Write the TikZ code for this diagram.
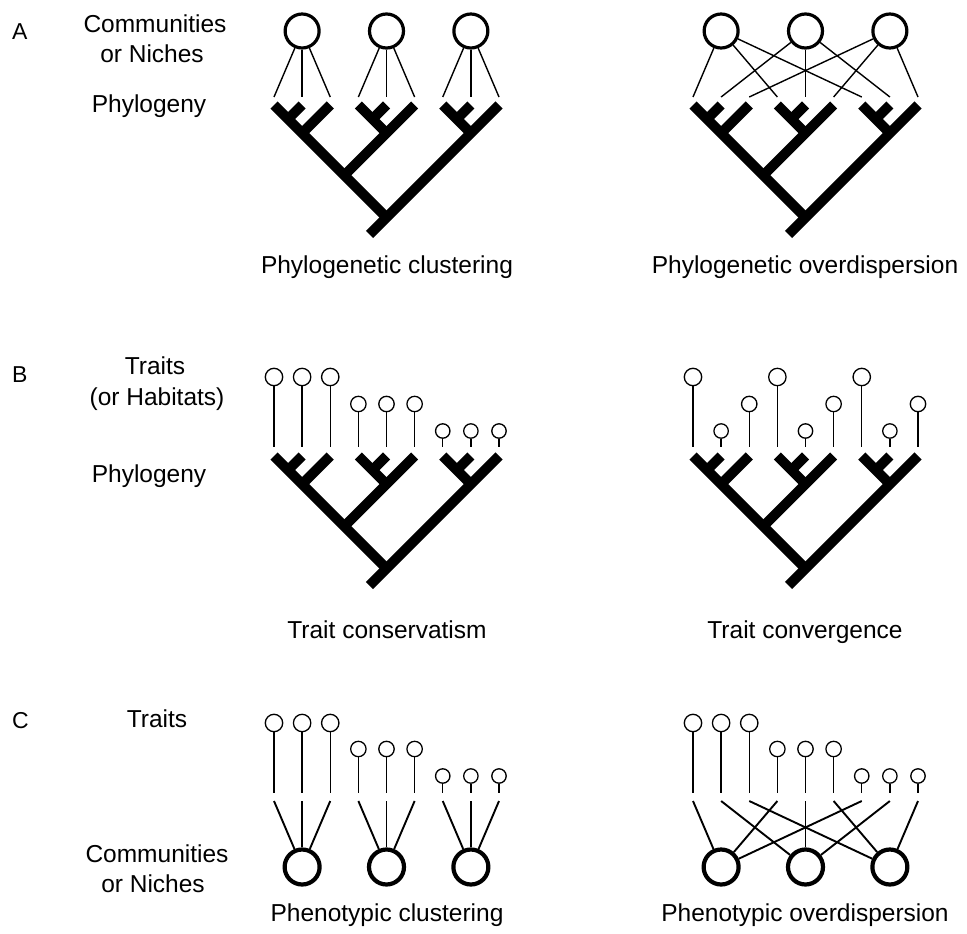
\documentclass[tikz,border=0pt]{standalone}
\usepackage{fontspec}
\setmainfont{Liberation Sans}
\usetikzlibrary{calc}
\newcommand{\phylotree}[3]{% prefix, x0, tip y
  \foreach \i in {1,...,9}{\coordinate (#1t\i) at ({#2+28.125*(\i-1)},#3);}
  \foreach \a/\b/\nm in {1/2/n12,1/3/n13,4/5/n45,4/6/n46,7/8/n78,7/9/n79,1/6/n16,1/9/root}{
    \coordinate (#1\nm) at ({#2+28.125*(\a+\b-2)/2},{#3+28.125*(\b-\a)/2});}
  \coordinate (#1stub) at ($(#1root)+(-17,17)$);
  \draw[branch] (#1t1) -- (#1root);
  \draw[branch] (#1t2) -- (#1n12);
  \draw[branch] (#1t3) -- (#1n13);
  \draw[branch] (#1t4) -- (#1n46);
  \draw[branch] (#1t5) -- (#1n45);
  \draw[branch] (#1t6) -- (#1n16);
  \draw[branch] (#1t7) -- (#1n79);
  \draw[branch] (#1t8) -- (#1n78);
  \draw[branch] (#1t9) -- (#1stub);
}
\begin{document}
\begin{tikzpicture}[x=1pt,y=-1pt,
  lab/.style={anchor=base, inner sep=0pt, font=\fontsize{24.5}{30}\selectfont},
  letter/.style={anchor=base west, inner sep=0pt, font=\fontsize{23}{27}\selectfont},
  branch/.style={line width=10pt, line cap=butt},
  thinline/.style={line width=1.4pt},
  commA/.style={circle, draw, line width=3.2pt, minimum size=34pt, inner sep=0pt},
  commC/.style={circle, draw, line width=4.2pt, minimum size=35pt, inner sep=0pt},
  lolli/.style={circle, draw, line width=1.3pt, inner sep=0pt, minimum size=#1},
  link/.style={line width=1.9pt}
]
\useasboundingbox (0,0) rectangle (967,934);

% ---------- left labels ----------
\node[letter] (LA) at (12,40) {A};
\node[letter] (LB) at (12,382) {B};
\node[letter] (LC) at (12,728) {C};
\node[lab] (a1) at (155,33) {Communities};
\node[lab] (a2) at (152,63) {or Niches};
\node[lab] (a3) at (149,112) {Phylogeny};
\node[lab] (b1) at (155,374) {Traits};
\node[lab] (b2) at (157,405) {(or Habitats)};
\node[lab] (b3) at (149,482) {Phylogeny};
\node[lab] (c1) at (157,727) {Traits};
\node[lab] (c2) at (157,862) {Communities};
\node[lab] (c3) at (153,892) {or Niches};

% ---------- captions ----------
\node[lab] (capA1) at (387,273) {Phylogenetic clustering};
\node[lab] (capA2) at (805,273) {Phylogenetic overdispersion};
\node[lab] (capB1) at (387,638) {Trait conservatism};
\node[lab] (capB2) at (805,638) {Trait convergence};
\node[lab] (capC1) at (387,921) {Phenotypic clustering};
\node[lab] (capC2) at (805,921) {Phenotypic overdispersion};

% ---------- panel A ----------
\phylotree{AL}{274}{105}
\phylotree{AR}{693}{105}
\foreach \i in {1,...,9}{
  \coordinate (ALe\i) at ({274+28.125*(\i-1)},97);
  \coordinate (ARe\i) at ({693+28.125*(\i-1)},97);
}
\foreach \k/\t in {1/2,2/5,3/8}{
  \node[commA] (ALc\k) at ({274+28.125*(\t-1)},31) {};
  \node[commA] (ARc\k) at ({693+28.125*(\t-1)},31) {};
}
\foreach \k/\a/\b/\c in {1/1/2/3,2/4/5/6,3/7/8/9}{
  \draw[thinline] (ALc\k) -- (ALe\a);
  \draw[thinline] (ALc\k) -- (ALe\b);
  \draw[thinline] (ALc\k) -- (ALe\c);
}
\foreach \k/\a/\b/\c in {1/1/4/7,2/2/5/8,3/3/6/9}{
  \draw[thinline] (ARc\k) -- (ARe\a);
  \draw[thinline] (ARc\k) -- (ARe\b);
  \draw[thinline] (ARc\k) -- (ARe\c);
}

% ---------- panel B ----------
\phylotree{BL}{274}{456}
\phylotree{BR}{693}{456}
\foreach \i/\s/\yy in {1/17.4/377,2/17.4/377,3/17.4/377,4/15.4/404,5/15.4/404,6/15.4/404,7/14.4/431,8/14.4/431,9/14.4/431}{
  \node[lolli=\s pt] (BLc\i) at ({274+28.125*(\i-1)},\yy) {};
  \coordinate (BLs\i) at ({274+28.125*(\i-1)},447);
  \draw[line width=1.3pt] (BLc\i) -- (BLs\i);
}
\foreach \i/\s/\yy in {1/17.4/377,2/14.4/431,3/15.4/404,4/17.4/377,5/14.4/431,6/15.4/404,7/17.4/377,8/14.4/431,9/15.4/404}{
  \node[lolli=\s pt] (BRc\i) at ({693+28.125*(\i-1)},\yy) {};
  \coordinate (BRs\i) at ({693+28.125*(\i-1)},447);
  \draw[line width=1.3pt] (BRc\i) -- (BRs\i);
}

% ---------- panel C ----------
\foreach \i/\s/\yy in {1/17.4/723,2/17.4/723,3/17.4/723,4/15.4/749,5/15.4/749,6/15.4/749,7/14.4/776,8/14.4/776,9/14.4/776}{
  \node[lolli=\s pt] (CLc\i) at ({274+28.125*(\i-1)},\yy) {};
  \coordinate (CLs\i) at ({274+28.125*(\i-1)},793);
  \coordinate (CLu\i) at ({274+28.125*(\i-1)},801);
  \draw[line width=1.3pt] (CLc\i) -- (CLs\i);
  \node[lolli=\s pt] (CRc\i) at ({693+28.125*(\i-1)},\yy) {};
  \coordinate (CRs\i) at ({693+28.125*(\i-1)},793);
  \coordinate (CRu\i) at ({693+28.125*(\i-1)},801);
  \draw[line width=1.3pt] (CRc\i) -- (CRs\i);
}
\foreach \k/\t in {1/2,2/5,3/8}{
  \node[commC] (CLm\k) at ({274+28.125*(\t-1)},867) {};
  \node[commC] (CRm\k) at ({693+28.125*(\t-1)},867) {};
}
\foreach \k/\a/\b/\c in {1/1/2/3,2/4/5/6,3/7/8/9}{
  \draw[link] (CLu\a) -- (CLm\k);
  \draw[link] (CLu\b) -- (CLm\k);
  \draw[link] (CLu\c) -- (CLm\k);
}
\foreach \k/\a/\b/\c in {1/1/4/7,2/2/5/8,3/3/6/9}{
  \draw[link] (CRu\a) -- (CRm\k);
  \draw[link] (CRu\b) -- (CRm\k);
  \draw[link] (CRu\c) -- (CRm\k);
}
\end{tikzpicture}
\end{document}
